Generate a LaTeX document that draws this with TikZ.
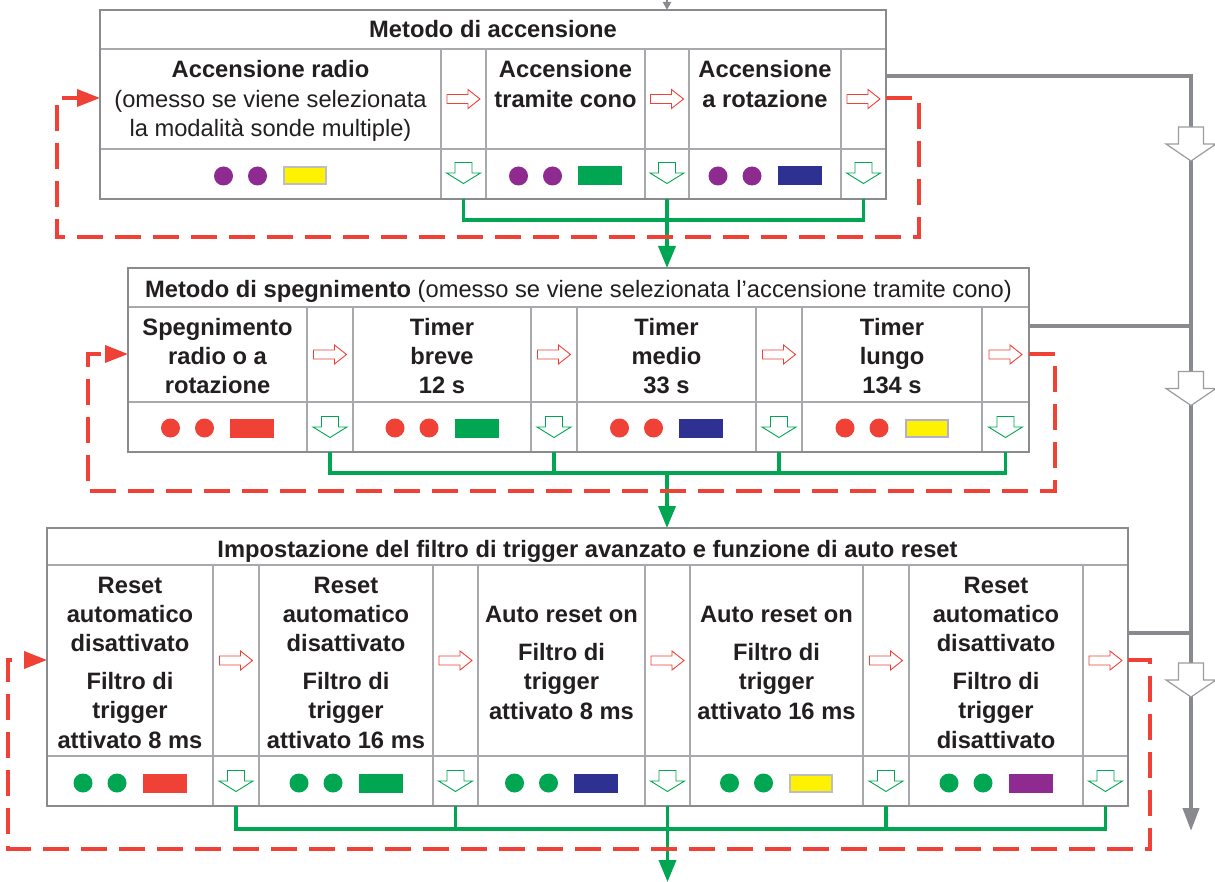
\documentclass[tikz,border=0pt]{standalone}
\usepackage{fontspec}
\setmainfont{Liberation Sans}
\usetikzlibrary{arrows.meta,calc}

\definecolor{framegray}{HTML}{8A8B8E}
\definecolor{rulegray}{HTML}{A8A9AC}
\definecolor{flowgray}{HTML}{898A8E}
\definecolor{loopred}{HTML}{EF4136}
\definecolor{stepgreen}{HTML}{00A651}
\definecolor{ledpurple}{HTML}{8E2A90}
\definecolor{ledred}{HTML}{EF4136}
\definecolor{ledblue}{HTML}{2E3192}
\definecolor{ledyellow}{HTML}{FFF200}
\definecolor{rimgray}{HTML}{BEBEC1}
\definecolor{rimlilac}{HTML}{B2AED6}
\definecolor{inkdark}{HTML}{231F20}

% a ruled cell of a table: name, x1, y1, x2, y2
\newcommand{\cellnode}[6][cellrule]{%
  \node[#1, minimum width={#5-#3}, minimum height={#6-#4}] (#2) at ({(#3+#5)/2},{(#4+#6)/2}) {};}

% two indicator dots and a bar: centre x, centre y, dot colour, bar colour, bar rim
\newcommand{\ledset}[5]{%
  \fill[#3] (#1-47,#2) circle[radius=9.5];
  \fill[#3] (#1-13,#2) circle[radius=9.5];
  \filldraw[fill=#4, draw=#5, line width=2pt] (#1+13.5,#2-8.5) rectangle (#1+55.5,#2+8.5);}

% labels are anchored on the baseline of their last line
\tikzset{
  cellrule/.style={draw=rulegray, line width=1.3pt, inner sep=0pt, outer sep=0pt},
  framebox/.style={draw=framegray, line width=2.6pt, inner sep=0pt, outer sep=0pt},
  label/.style={inner sep=0pt, text=inkdark, align=center, anchor=base,
    font=\fontsize{23.7}{29.3}\selectfont\bfseries},
  flow/.style={draw=flowgray, line width=4pt},
  greenbus/.style={draw=stepgreen, line width=3.6pt},
  redloop/.style={draw=loopred, line width=3.6pt, dash pattern=on 26pt off 12pt},
  nextarrow/.pic={\draw[loopred, line width=0.9pt, fill=white]
    (-16.5,-4.5) -- (4.5,-4.5) -- (4.5,-9.5) -- (16.5,0) -- (4.5,9.5) -- (4.5,4.5) -- (-16.5,4.5) -- cycle;},
  downarrow/.pic={\draw[stepgreen, line width=0.9pt, fill=white]
    (-8.5,-10.5) -- (8.5,-10.5) -- (8.5,0) -- (17,0) -- (0,10.5) -- (-17,0) -- (-8.5,0) -- cycle;},
  bigdown/.pic={\draw[flowgray!85, line width=1.2pt, fill=white]
    (-12.5,-17) -- (12.5,-17) -- (12.5,0) -- (25,0) -- (0,17) -- (-25,0) -- (-12.5,0) -- cycle;},
}

\begin{document}
\begin{tikzpicture}[x=1pt, y=-1pt]
\fill[white] (0,0) rectangle (1215,882);
\useasboundingbox (0,0) rectangle (1215,882);

% ---------- switching-on method ----------
\cellnode{h1}{100}{10}{886}{49}
\cellnode{m11}{100}{49}{441}{149}
\cellnode{r11}{441}{49}{486}{149}
\cellnode{m12}{486}{49}{645}{149}
\cellnode{r12}{645}{49}{689}{149}
\cellnode{m13}{689}{49}{841}{149}
\cellnode{r13}{841}{49}{886}{149}
\cellnode{l11}{100}{149}{441}{199}
\cellnode{a11}{441}{149}{486}{199}
\cellnode{l12}{486}{149}{645}{199}
\cellnode{a12}{645}{149}{689}{199}
\cellnode{l13}{689}{149}{841}{199}
\cellnode{a13}{841}{149}{886}{199}
\cellnode[framebox]{box1}{100}{10}{886}{199}

\node[label] (t10) at (493,38) {Metodo di accensione};
\node[label] (t11) at (270.5,136.6) {Accensione radio\\{\mdseries (omesso se viene selezionata}\\{\mdseries la modalità sonde multiple)}};
\node[label] (t12) at (565.5,107.3) {Accensione\\tramite cono};
\node[label] (t13) at (765,107.3) {Accensione\\a rotazione};

\ledset{270.5}{176}{ledpurple}{ledyellow}{rimgray}
\ledset{565.5}{176}{ledpurple}{stepgreen}{stepgreen}
\ledset{765}{176}{ledpurple}{ledblue}{ledblue}

\pic (n11) at (r11.center) {nextarrow};
\pic (n12) at (r12.center) {nextarrow};
\pic (n13) at (r13.center) {nextarrow};
\pic (d11) at ($(a11.center)+(0,-1)$) {downarrow};
\pic (d12) at ($(a12.center)+(0,-1)$) {downarrow};
\pic (d13) at ($(a13.center)+(0,-1)$) {downarrow};

% ---------- switching-off method ----------
\cellnode{h2}{128}{268}{1029}{307}
\cellnode{m21}{128}{307}{307}{402}
\cellnode{r21}{307}{307}{353}{402}
\cellnode{m22}{353}{307}{531}{402}
\cellnode{r22}{531}{307}{577}{402}
\cellnode{m23}{577}{307}{756}{402}
\cellnode{r23}{756}{307}{802}{402}
\cellnode{m24}{802}{307}{982}{402}
\cellnode{r24}{982}{307}{1029}{402}
\cellnode{l21}{128}{402}{307}{452}
\cellnode{a21}{307}{402}{353}{452}
\cellnode{l22}{353}{402}{531}{452}
\cellnode{a22}{531}{402}{577}{452}
\cellnode{l23}{577}{402}{756}{452}
\cellnode{a23}{756}{402}{802}{452}
\cellnode{l24}{802}{402}{982}{452}
\cellnode{a24}{982}{402}{1029}{452}
\cellnode[framebox]{box2}{128}{268}{1029}{452}

\node[label] (t20) at (578.5,298) {Metodo di spegnimento {\mdseries (omesso se viene selezionata l’accensione tramite cono)}};
\node[label] (t21) at (217.5,393.6) {Spegnimento\\radio o a\\rotazione};
\node[label] (t22) at (442,393.6) {Timer\\breve\\12 s};
\node[label] (t23) at (666.5,393.6) {Timer\\medio\\33 s};
\node[label] (t24) at (892,393.6) {Timer\\lungo\\134 s};

\ledset{217.5}{428}{ledred}{ledred}{ledred}
\ledset{442}{428}{ledred}{stepgreen}{stepgreen}
\ledset{666.5}{428}{ledred}{ledblue}{ledblue}
\ledset{892}{428}{ledred}{ledyellow}{rimlilac}

\pic (n21) at (r21.center) {nextarrow};
\pic (n22) at (r22.center) {nextarrow};
\pic (n23) at (r23.center) {nextarrow};
\pic (n24) at (r24.center) {nextarrow};
\pic (d21) at (a21.center) {downarrow};
\pic (d22) at (a22.center) {downarrow};
\pic (d23) at (a23.center) {downarrow};
\pic (d24) at (a24.center) {downarrow};

% ---------- trigger filter and auto reset ----------
\cellnode{h3}{47}{528}{1128}{565}
\cellnode{m31}{47}{565}{213}{756}
\cellnode{r31}{213}{565}{259}{756}
\cellnode{m32}{259}{565}{433}{756}
\cellnode{r32}{433}{565}{478}{756}
\cellnode{m33}{478}{565}{645}{756}
\cellnode{r33}{645}{565}{690}{756}
\cellnode{m34}{690}{565}{863}{756}
\cellnode{r34}{863}{565}{909}{756}
\cellnode{m35}{909}{565}{1083}{756}
\cellnode{r35}{1083}{565}{1128}{756}
\cellnode{l31}{47}{756}{213}{806}
\cellnode{a31}{213}{756}{259}{806}
\cellnode{l32}{259}{756}{433}{806}
\cellnode{a32}{433}{756}{478}{806}
\cellnode{l33}{478}{756}{645}{806}
\cellnode{a33}{645}{756}{690}{806}
\cellnode{l34}{690}{756}{863}{806}
\cellnode{a34}{863}{756}{909}{806}
\cellnode{l35}{909}{756}{1083}{806}
\cellnode{a35}{1083}{756}{1128}{806}
\cellnode[framebox]{box3}{47}{528}{1128}{806}

\node[label] (t30) at (587.5,557) {Impostazione del filtro di trigger avanzato e funzione di auto reset};
\node[label] (t31) at (130,748) {Reset\\automatico\\disattivato\\[8.3pt]Filtro di\\trigger\\attivato 8 ms};
\node[label] (t32) at (346,748) {Reset\\automatico\\disattivato\\[8.3pt]Filtro di\\trigger\\attivato 16 ms};
\node[label] (t33) at (561.5,719) {Auto reset on\\[8.3pt]Filtro di\\trigger\\attivato 8 ms};
\node[label] (t34) at (776.5,719) {Auto reset on\\[8.3pt]Filtro di\\trigger\\attivato 16 ms};
\node[label] (t35) at (996,748) {Reset\\automatico\\disattivato\\[8.3pt]Filtro di\\trigger\\disattivato};

\ledset{130}{783}{stepgreen}{ledred}{ledred}
\ledset{346}{783}{stepgreen}{stepgreen}{stepgreen}
\ledset{561.5}{783}{stepgreen}{ledblue}{ledblue}
\ledset{776.5}{783}{stepgreen}{ledyellow}{rimgray}
\ledset{996}{783}{stepgreen}{ledpurple}{ledpurple}

\pic (n31) at (r31.center) {nextarrow};
\pic (n32) at (r32.center) {nextarrow};
\pic (n33) at (r33.center) {nextarrow};
\pic (n34) at (r34.center) {nextarrow};
\pic (n35) at (r35.center) {nextarrow};
\pic (d31) at (a31.center) {downarrow};
\pic (d32) at (a32.center) {downarrow};
\pic (d33) at (a33.center) {downarrow};
\pic (d34) at (a34.center) {downarrow};
\pic (d35) at (a35.center) {downarrow};

% ---------- connectors ----------
\coordinate (feed) at (667,0);
\draw[draw=flowgray, line width=2pt, -{Triangle[length=8pt,width=8pt]}] (feed) -- (feed |- box1.north);

% green step buses
\coordinate (bus1) at (667,220);
\coordinate (bus2) at (667,473);
\coordinate (bus3) at (667,829);
\coordinate (exit) at (667.5,882);
\draw[greenbus] (a11.south) |- (bus1) -| (a13.south);
\draw[greenbus, -{Triangle[length=22pt,width=17pt]}] (a12.south) -- (a12.south |- box2.north);
\draw[greenbus] (a21.south) |- (bus2) -| (a24.south);
\draw[greenbus] (a22.south) -- (a22.south |- bus2);
\draw[greenbus] (a23.south) -- (a23.south |- bus2);
\draw[greenbus, -{Triangle[length=22pt,width=17pt]}] (bus2) -- (bus2 |- box3.north);
\draw[greenbus] (a31.south) |- (bus3) -| (a35.south);
\draw[greenbus] (a32.south) -- (a32.south |- bus3);
\draw[greenbus] (a34.south) -- (a34.south |- bus3);
\draw[greenbus, -{Triangle[length=22pt,width=17pt]}] (a33.south) -- (exit);

% red return loops
\coordinate (lp1a) at (919,98);
\coordinate (lp1b) at (57,237);
\draw[redloop, -{Triangle[length=23pt,width=17pt]}] (box1.east |- lp1a) -- (lp1a) -- (lp1a |- lp1b) -- (lp1b) -- (lp1b |- lp1a) -- (box1.west |- lp1a);
\coordinate (lp2a) at (1055,354);
\coordinate (lp2b) at (88,491);
\draw[redloop, -{Triangle[length=23pt,width=17pt]}] (box2.east |- lp2a) -- (lp2a) -- (lp2a |- lp2b) -- (lp2b) -- (lp2b |- lp2a) -- (box2.west |- lp2a);
\coordinate (lp3a) at (1150,660);
\coordinate (lp3b) at (8,849);
\draw[redloop, -{Triangle[length=23pt,width=17pt]}] (box3.east |- lp3a) -- (lp3a) -- (lp3a |- lp3b) -- (lp3b) -- (lp3b |- lp3a) -- (box3.west |- lp3a);

% grey exit line on the right
\coordinate (g1) at (1191,76);
\coordinate (g2) at (1191,326);
\coordinate (g3) at (1191,633);
\coordinate (gend) at (1191,831);
\draw[flow, -{Triangle[length=23pt,width=16pt]}] (box1.east |- g1) -- (g1) -- (gend);
\draw[flow] (box2.east |- g2) -- (g2);
\draw[flow] (box3.east |- g3) -- (g3);
\pic (e1) at (1191,144) {bigdown};
\pic (e2) at (1191,388.5) {bigdown};
\pic (e3) at (1191,680) {bigdown};
\end{tikzpicture}
\end{document}
